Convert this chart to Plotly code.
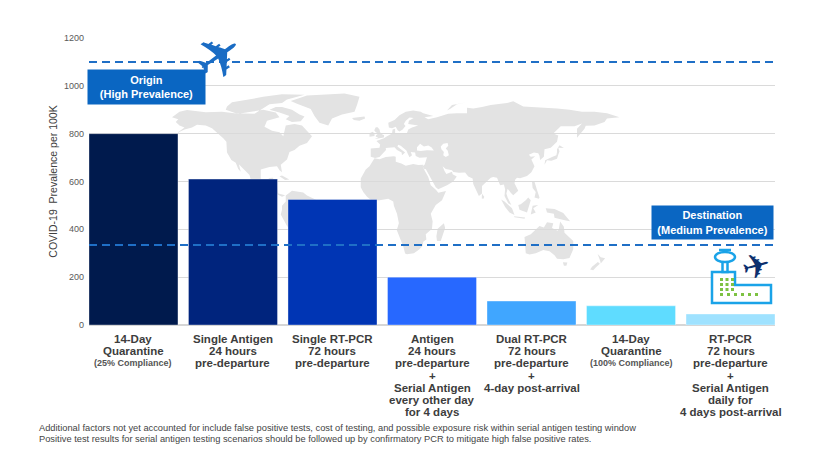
import plotly.graph_objects as go

# ---- chart data ------------------------------------------------------------
scenarios = ["Quarantine 25%", "Single Antigen", "Single RT-PCR", "Antigen + Serial",
             "Dual RT-PCR", "Quarantine 100%", "RT-PCR + Serial"]
prevalence = [800, 610, 525, 200, 100, 80, 46]
bar_colors = ["#001a4d", "#00247d", "#0035b4", "#2768ff", "#40a6ff", "#5fdcff", "#9fe2ff"]
scenario_lines = [
    ["14-Day", "Quarantine"],
    ["Single Antigen", "24 hours", "pre-departure"],
    ["Single RT-PCR", "72 hours", "pre-departure"],
    ["Antigen", "24 hours", "pre-departure", "+", "Serial Antigen", "every other day", "for 4 days"],
    ["Dual RT-PCR", "72 hours", "pre-departure", "+", "4-day post-arrival"],
    ["14-Day", "Quarantine"],
    ["RT-PCR", "72 hours", "pre-departure", "+", "Serial Antigen", "daily for", "4 days post-arrival"],
]
scenario_notes = ["(25% Compliance)", "", "", "", "", "(100% Compliance)", ""]
y_ticks = [0, 200, 400, 600, 800, 1000, 1200]
origin_prevalence = 1100
destination_prevalence = 335
origin_label = ["Origin", "(High Prevalence)"]
destination_label = ["Destination", "(Medium Prevalence)"]
y_title = "COVID-19  Prevalence per 100K"
footnotes = [
    "Additional factors not yet accounted for include false positive tests, cost of testing, "
    "and possible exposure risk within serial antigen testing window",
    "Positive test results for serial antigen testing scenarios should be followed up by "
    "confirmatory PCR to mitigate high false positive rates.",
]

# ---- background world map (rough lon/lat outlines) -------------------------
north_america = [(-168, 66), (-162, 70), (-156, 71.3), (-141, 69.6), (-128, 70), (-115, 68.5),
                 (-95, 71.5), (-85, 69.5), (-82, 66), (-92, 63.5), (-94, 59), (-88, 56), (-82, 55),
                 (-79, 52), (-77, 60), (-70, 61), (-64, 60), (-56, 52), (-60, 47), (-66, 45),
                 (-70, 42), (-74, 40.5), (-76, 35), (-81, 31), (-80, 25.5), (-82, 27), (-84, 30),
                 (-90, 29.5), (-97, 27.5), (-97, 21), (-94, 18.5), (-90, 21.3), (-87, 21.5),
                 (-88, 16), (-84, 15.5), (-83, 10), (-79, 9), (-77.5, 8.5), (-80, 7.5), (-85, 10),
                 (-92, 14.5), (-97, 16), (-105, 20), (-106, 23.5), (-112, 29), (-114.5, 31.5),
                 (-113, 26), (-110, 23), (-112, 24.5), (-115, 28), (-117, 32.5), (-120.5, 34.5),
                 (-124, 40), (-124.5, 48), (-127, 50.5), (-131, 54), (-136, 58), (-141, 60),
                 (-148, 60.5), (-152, 58.5), (-158, 57), (-164, 54.5), (-158, 58.5), (-162, 60),
                 (-165, 62.5), (-163, 64.5)]
baffin = [(-80, 73.5), (-72, 71.5), (-66, 68), (-62, 66.5), (-65, 63), (-72, 62.5), (-77, 64.5),
          (-74, 67), (-82, 69.5), (-90, 71.5), (-85, 73.5)]
arctic_islands = [(-125, 71.5), (-117, 69), (-102, 68.5), (-96, 72), (-90, 75.5), (-80, 76.5),
                  (-76, 79), (-62, 82.5), (-80, 83), (-95, 81), (-110, 78.5), (-120, 77), (-124, 74)]
greenland = [(-73, 78), (-60, 82), (-30, 83.5), (-18, 81), (-20, 75), (-22, 70), (-32, 68),
             (-40, 65), (-43, 60), (-50, 62), (-54, 67), (-57, 72), (-68, 76)]
iceland = [(-24, 65.5), (-14, 66.5), (-13.5, 65), (-18, 63.4), (-22.5, 64)]
cuba = [(-85, 21.8), (-80, 23.1), (-74.2, 20.2), (-77.5, 19.9), (-82, 22.6)]
south_america = [(-77, 8.5), (-72, 12), (-63, 10.7), (-60, 8.5), (-52, 5), (-50, 0), (-44, -2.5),
                 (-35, -5), (-35, -9), (-39, -15), (-41, -22), (-48, -26), (-53, -34),
                 (-58, -38.5), (-62, -39), (-65, -42), (-66, -47), (-69, -51), (-68.5, -55),
                 (-72, -54), (-75, -50), (-73.5, -42), (-72, -30), (-70.5, -18.5), (-76, -14),
                 (-81, -5.5), (-80, -2), (-80, 1), (-77, 4)]
eurasia = [(-9, 37), (-9, 43), (-2, 43.5), (-1.5, 46), (-4.5, 48.5), (1.5, 50.5), (4, 52), (8, 54),
           (8.5, 57), (10.5, 57.5), (10.5, 54.5), (13, 54.5), (20, 54.5), (21, 57), (24, 58.5),
           (29, 60), (22, 60.5), (21, 61), (21.5, 63.5), (25.3, 65.5), (22, 65.8), (19, 63.5),
           (17.5, 61), (18.8, 59.5), (16.5, 57), (14, 55.5), (12.5, 56.5), (11, 59), (8, 58),
           (5.5, 58.5), (5, 62), (10, 64), (14, 67.5), (19, 70), (25, 71), (31, 70), (33, 69),
           (41, 67), (34, 66), (37, 64.5), (44, 66), (53, 68.5), (60, 69), (68, 69), (68, 73),
           (73, 72.5), (80, 73.5), (87, 75), (100, 76.5), (105, 77.7), (113, 74), (127, 73.5),
           (140, 72.5), (150, 71.5), (160, 70), (170, 70), (180, 69), (190, 66), (180, 65),
           (178, 62.5), (170, 60), (163, 59.8), (162, 57.5), (156, 51), (156, 57.5), (160, 61.5),
           (154, 59.3), (143, 59.3), (137, 54), (141, 52.5), (140, 48), (135, 43.5), (130, 42.5),
           (129.5, 37), (126.5, 34.5), (126, 37.7), (125, 39.5), (121.5, 40), (118, 39),
           (117.5, 38.5), (119, 37), (122.5, 37.3), (119.5, 35), (121, 32), (122, 30),
           (119.5, 25.5), (116, 22.8), (110.5, 21.2), (108, 21.5), (106.5, 20), (106, 17.5),
           (109, 12), (105, 8.7), (103, 10.5), (100.5, 13.5), (99.5, 10), (100.5, 7),
           (103.5, 1.5), (101, 2.8), (98, 8), (98.5, 13), (97.5, 16.5), (94.5, 16), (92, 21.5),
           (89, 22), (87, 21.5), (80, 15.5), (80, 10), (77.5, 8), (76, 11), (73, 17), (72.5, 21),
           (69, 22.5), (66.5, 25.3), (61.5, 25.2), (57, 25.8), (56, 27), (51, 28), (48.5, 30),
           (50, 26.5), (51.5, 24.2), (56, 26), (56.5, 24), (59.8, 22.5), (57, 18.8), (52, 16),
           (45, 13), (43, 14.5), (39, 21.5), (35, 28), (34, 27.7), (32.5, 30), (34.2, 31.3),
           (35, 33), (36, 36.5), (30, 36.2), (27, 37.5), (26.5, 40), (23, 40.5), (24, 38),
           (22, 36.5), (21, 38.5), (19.5, 41.5), (15, 45), (13, 45.7), (12.3, 44.5), (16, 41.5),
           (18.5, 40), (16, 38), (15.7, 40), (12, 42), (10, 44), (7.5, 43.8), (3, 43.3),
           (3.2, 42), (0, 39), (-0.5, 38), (-2, 36.7), (-5.5, 36)]
novaya_zemlya = [(52, 71), (56, 75), (68, 77), (60, 75.5), (55, 72.5)]
britain = [(-5.7, 50), (1.5, 51.2), (1.7, 52.7), (0, 53.5), (-1.5, 55), (-2, 57), (-3.5, 58.6),
           (-5, 58.6), (-6.2, 56.5), (-5, 55), (-3, 54), (-4.7, 52.8), (-5, 51.6), (-3, 51.3)]
ireland = [(-10, 51.6), (-6, 52.2), (-6, 54), (-7.5, 55.3), (-10, 54.2)]
japan = [(130, 31), (132, 34.4), (135.5, 34), (140, 35.5), (141, 38.5), (142, 41), (141, 43.5),
         (145.5, 43.3), (142, 45.5), (140, 42.5), (140, 40.5), (139.5, 38), (136.5, 37),
         (133, 35.5), (130.5, 34.3)]
africa = [(-6, 35.8), (-10, 30), (-13, 27.5), (-17, 21), (-17, 14.5), (-15, 11), (-12, 7.5),
          (-8, 4.5), (-2, 5), (5, 6), (9, 4), (9.5, 1), (12, -5), (13.5, -12), (11.8, -17),
          (14.5, -23), (17, -29), (18.5, -34.3), (20, -34.8), (25.5, -34), (30, -31),
          (32.5, -28.5), (33, -25.5), (35.5, -24), (35, -20), (40, -16), (40.5, -10.5),
          (39, -5), (41, -1.5), (43, 1.5), (48, 5), (51.2, 11.8), (45, 10.5), (43.3, 12.5),
          (39, 16), (37, 22), (34, 27), (32.5, 29.9), (33, 31), (29, 30.9), (25, 31.7),
          (20, 30.8), (19, 30.3), (15.5, 32), (11, 33.2), (11, 37), (9.5, 37.3), (3, 36.8),
          (-2, 35.1)]
madagascar = [(44, -25), (43.5, -21.5), (44.5, -16), (49.5, -12), (50.5, -15.5), (47, -25)]
sri_lanka = [(79.8, 6.2), (80, 9.7), (81.8, 7.5), (81.2, 6.1)]
sumatra = [(95.3, 5.5), (98, 4), (104, -1), (106, -5.8), (102, -4), (98.5, 0)]
java = [(105.5, -6.8), (114.5, -7.8), (114, -8.7), (106, -7.5)]
borneo = [(109, 1.5), (110, -2), (116, -4), (118, 1), (119, 5), (117, 7), (115, 5), (111, 2)]
sulawesi = [(119, -5.5), (120.5, 1), (125, 1.5), (121, -1), (123, -4)]
new_guinea = [(131, -1), (138, -1.5), (145, -4.5), (150.5, -10.5), (147, -10), (141, -9),
              (138, -8), (137.5, -5), (132, -4)]
philippines = [(120, 18.5), (122, 18.5), (124, 12.5), (126, 7), (125.5, 6), (122, 7), (123, 11),
               (120.5, 14)]
australia = [(114, -22), (114.5, -26), (115, -34), (118, -35), (123, -34), (129, -31.7),
             (134, -32.5), (138, -35.5), (140, -38), (145, -38.5), (150, -37.5), (153, -31),
             (153, -25), (150, -22.5), (146, -19), (145.5, -14.5), (142.5, -10.7), (141.5, -16),
             (140.5, -17.5), (136, -15.5), (137, -12), (132, -11.3), (129.5, -15), (126, -14),
             (122, -17.5), (119, -20)]
tasmania = [(144.7, -40.7), (148.3, -40.9), (147.5, -43.3), (145.5, -43.2)]
nz_north = [(172.5, -34.5), (175, -37), (178.5, -37.7), (175, -41.6), (174.5, -39.5), (173.5, -36.5)]
nz_south = [(172.7, -40.5), (174.3, -41.7), (171, -44.5), (169, -46.5), (166.5, -46), (168, -44)]
black_sea = [(28, 41.5), (28, 44), (30.5, 46.5), (33.5, 44.5), (37, 45.3), (39.5, 44),
             (41.5, 41.5), (36, 41.7), (31, 41.2)]
caspian = [(47, 44.5), (49, 46.5), (52.5, 47), (53, 45), (51, 43), (52.5, 41.5), (53.5, 38),
           (51, 36.8), (49, 38), (49.5, 40.5), (47.5, 42.5)]

land = [north_america, baffin, arctic_islands, greenland, iceland, cuba, south_america, eurasia,
        novaya_zemlya, britain, ireland, japan, africa, madagascar, sri_lanka, sumatra, java,
        borneo, sulawesi, new_guinea, philippines, australia, tasmania, nz_north, nz_south]
water = [black_sea, caspian]


def outline(polys):
    lon, lat = [], []
    for poly in polys:
        lon += [p[0] for p in poly] + [poly[0][0], None]
        lat += [p[1] for p in poly] + [poly[0][1], None]
    return lon, lat


# ---- layout geometry (window pixels; the page body adds an 8px margin) ------
PAGE_W, PAGE_H, BODY = 834, 473, 8
PLOT_L, PLOT_R, PLOT_T, PLOT_B = 89, 775, 38, 325
FONT = "Arial, 'Liberation Sans', sans-serif"
TEXT_GREY = "#3d3d3d"
BLUE = "#0a66c2"


def px(x):
    return (x - PLOT_L) / (PLOT_R - PLOT_L)


def py(y):
    return (PLOT_B - y) / (PLOT_B - PLOT_T)


def bold_lines(lines):
    return "<br>".join("<b>%s</b>" % s for s in lines)


fig = go.Figure()

land_lon, land_lat = outline(land)
fig.add_trace(go.Scatter(x=land_lon, y=land_lat, mode="lines", fill="toself",
                         fillcolor="#e3e3e3", line=dict(width=0, color="#e3e3e3"),
                         hoverinfo="skip", showlegend=False))
water_lon, water_lat = outline(water)
fig.add_trace(go.Scatter(x=water_lon, y=water_lat, mode="lines", fill="toself",
                         fillcolor="white", line=dict(width=0, color="white"),
                         hoverinfo="skip", showlegend=False))

fig.add_trace(go.Bar(x=scenarios, y=prevalence, xaxis="x2", yaxis="y2",
                     marker=dict(color=bar_colors, line=dict(color="rgba(255,255,255,0.35)", width=1)),
                     hoverinfo="skip", showlegend=False))

# dashed prevalence levels
for level in (origin_prevalence, destination_prevalence):
    fig.add_shape(type="line", xref="x2 domain", x0=0, x1=1, yref="y2", y0=level, y1=level,
                  line=dict(color="#1f6fc6", width=2, dash="8px,5px"))

annotations = []
# category labels, one annotation per line so the leading stays tight
for name, lines, note in zip(scenarios, scenario_lines, scenario_notes):
    for i, line in enumerate(lines):
        annotations.append(dict(x=name, xref="x2", y=0, yref="paper", yanchor="middle",
                                yshift=-(14 + 12.2 * i), text="<b>%s</b>" % line, showarrow=False,
                                font=dict(family=FONT, size=11.5, color=TEXT_GREY)))
    if note:
        annotations.append(dict(x=name, xref="x2", y=0, yref="paper", yanchor="middle",
                                yshift=-(14 + 12.2 * len(lines)), text="<b>%s</b>" % note,
                                showarrow=False, font=dict(family=FONT, size=9, color="#555555")))

# origin / destination boxes
annotations.append(dict(x=px(146.5), y=py(87), xref="paper", yref="paper",
                        xanchor="center", yanchor="middle", text=bold_lines(origin_label),
                        showarrow=False, bgcolor=BLUE, width=115, height=32, borderpad=1,
                        font=dict(family=FONT, size=11, color="white")))
annotations.append(dict(x=px(712.5), y=py(222.5), xref="paper", yref="paper",
                        xanchor="center", yanchor="middle", text=bold_lines(destination_label),
                        showarrow=False, bgcolor=BLUE, width=119, height=31, borderpad=1,
                        font=dict(family=FONT, size=11, color="white")))

# plane icons
annotations.append(dict(x=px(219), y=py(57), xref="paper", yref="paper", text="\u2708",
                        xanchor="center", yanchor="middle", showarrow=False, textangle=-35,
                        font=dict(family="DejaVu Sans", size=58, color="#1a6cc4")))
annotations.append(dict(x=px(756), y=py(266), xref="paper", yref="paper", text="\u2708",
                        xanchor="center", yanchor="middle", showarrow=False, textangle=-15,
                        font=dict(family="DejaVu Sans", size=34, color="#0d2f6e")))

# footnote, one line per annotation
for i, note in enumerate(footnotes):
    annotations.append(dict(x=px(37), y=py(428 + 11 * i), xref="paper", yref="paper",
                            xanchor="left", yanchor="middle", align="left", showarrow=False,
                            text=note, font=dict(family=FONT, size=9.3, color="#444444")))

# airport building icon
tower_col = "#1aa3e8"
shapes = [
    dict(type="path", xref="paper", yref="paper", layer="above",
         path="M %f %f L %f %f L %f %f L %f %f L %f %f L %f %f Z" % (
             px(712), py(303), px(712), py(272), px(735), py(272), px(735), py(285),
             px(771), py(285), px(771), py(303)),
         fillcolor="white", line=dict(color=tower_col, width=2.5)),
    dict(type="rect", xref="paper", yref="paper", x0=px(722.5), x1=px(727.5), y0=py(272), y1=py(261),
         fillcolor="white", line=dict(color=tower_col, width=2.5)),
    dict(type="circle", xref="paper", yref="paper", x0=px(715), x1=px(735), y0=py(262), y1=py(252),
         fillcolor="white", line=dict(color=tower_col, width=2.5)),
    dict(type="line", xref="paper", yref="paper", x0=px(719), x1=px(731), y0=py(250), y1=py(250),
         line=dict(color=tower_col, width=2.5)),
]
for gx in (720, 725.5, 731):
    for gy in (278, 283, 288):
        shapes.append(dict(type="rect", xref="paper", yref="paper", x0=px(gx), x1=px(gx + 3),
                           y0=py(gy + 3), y1=py(gy), fillcolor="#7dc242", line=dict(width=0)))
for gx in (720, 727, 734, 741, 748, 755):
    shapes.append(dict(type="rect", xref="paper", yref="paper", x0=px(gx), x1=px(gx + 3),
                       y0=py(296), y1=py(293), fillcolor="#7dc242", line=dict(width=0)))
for s in shapes:
    fig.add_shape(**s)

fig.update_layout(
    width=PAGE_W - BODY, height=PAGE_H - BODY,
    margin=dict(l=PLOT_L - BODY, r=PAGE_W - PLOT_R, t=PLOT_T - BODY, b=PAGE_H - PLOT_B),
    paper_bgcolor="white", plot_bgcolor="rgba(0,0,0,0)",
    bargap=0.1055,
    annotations=annotations,
    font=dict(family=FONT, color=TEXT_GREY),
    xaxis=dict(domain=[0, 1], range=[-234.4, 314.4], visible=False, fixedrange=True),
    yaxis=dict(domain=[0, 1], range=[-86.8, 124.3], visible=False, fixedrange=True),
    xaxis2=dict(domain=[0, 1], anchor="y2", type="category", range=[-0.447, 6.447],
                showticklabels=False, showgrid=False, zeroline=False, showline=False),
    yaxis2=dict(domain=[0, 1], anchor="x2", range=[0, 1200], tickvals=y_ticks,
                showgrid=True, gridcolor="#dadada", gridwidth=1,
                zeroline=True, zerolinecolor="#d6d6d6", zerolinewidth=2,
                showline=False, ticks="", ticklabelstandoff=4,
                tickfont=dict(family=FONT, size=9, color="#595959"),
                title=dict(text=y_title, standoff=4, font=dict(family=FONT, size=10.5, color="#404040")),
                automargin=False),
)

fig.write_html("out.html", config={"displayModeBar": False})
